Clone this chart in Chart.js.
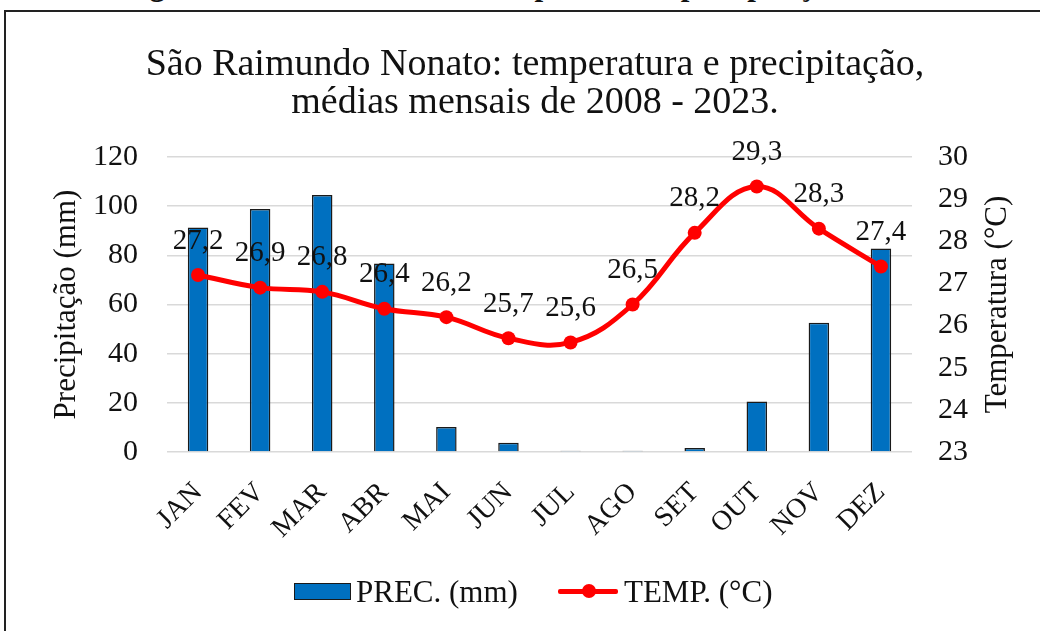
<!DOCTYPE html>
<html lang="pt">
<head>
<meta charset="utf-8">
<title>São Raimundo Nonato: temperatura e precipitação</title>
<script src="https://cdn.jsdelivr.net/npm/chart.js@4.4.1/dist/chart.umd.min.js"></script>
<style>
  html, body { margin: 0; padding: 0; background: #fff; }
  #quadro { position: relative; width: 1040px; height: 631px; overflow: hidden; font-family: "Liberation Serif", "Times New Roman", serif; color: #111; }
  #legenda-fig { position: absolute; left: 122px; top: -31px; font-weight: bold; font-size: 31px; line-height: 31px; white-space: nowrap; }
  #moldura { position: absolute; left: 4px; top: 10px; width: 1100px; height: 700px; border-left: 2px solid #222; border-top: 2px solid #222; }
  #titulo { position: absolute; left: 30px; top: 43px; width: 1010px; text-align: center; font-size: 38px; line-height: 38px; }
  canvas { position: absolute; left: 0; top: 0; }
  .leg { position: absolute; font-size: 31px; line-height: 31px; white-space: nowrap; }
  .caixa { position: absolute; left: 294px; top: 583px; width: 55px; height: 15px; background: #0070c0; border: 1.5px solid #1a1a1a; }
  .linha { position: absolute; left: 558px; top: 589px; width: 60px; height: 5px; background: #ff0000; border-radius: 2px; }
  .ponto { position: absolute; left: 582px; top: 584px; width: 14px; height: 14px; background: #ff0000; border-radius: 50%; }
</style>
</head>
<body>
<div id="quadro">
  <div id="legenda-fig">Figura 3: Média mensal de temperatura e precipitação</div>
  <div id="moldura"></div>
  <canvas id="grafico" width="1040" height="631"></canvas>
  <div id="titulo">São Raimundo Nonato: temperatura e precipitação,<br>médias mensais de 2008 - 2023.</div>
  <div class="caixa"></div>
  <div class="leg" style="left:356px; top:576px;">PREC. (mm)</div>
  <div class="linha"></div>
  <div class="ponto"></div>
  <div class="leg" style="left:624px; top:576px;">TEMP. (°C)</div>
</div>

<script>
// --- Dados ---
const meses = ['JAN', 'FEV', 'MAR', 'ABR', 'MAI', 'JUN', 'JUL', 'AGO', 'SET', 'OUT', 'NOV', 'DEZ'];
const precipitacao = [91.3, 98.8, 104.5, 76.7, 10.2, 3.8, 0.5, 0.5, 1.6, 20.5, 52.6, 82.8];
const temperatura = [27.2, 26.9, 26.8, 26.4, 26.2, 25.7, 25.6, 26.5, 28.2, 29.3, 28.3, 27.4];
const ticksPrec = [0, 20, 40, 60, 80, 100, 120];
const ticksTemp = [23, 24, 25, 26, 27, 28, 29, 30];

const FONTE = '"Liberation Serif", "Times New Roman", serif';
const COR_TEXTO = '#111';

/**
 * Escreve o valor de cada ponto de temperatura acima do marcador
 * e o título do eixo direito (lido de baixo para cima).
 */
const rotulosTemp = {
  id: 'rotulosTemp',
  afterDatasetsDraw(chart) {
    const meta = chart.getDatasetMeta(1);
    const ctx = chart.ctx;
    ctx.save();
    ctx.font = '29px ' + FONTE;
    ctx.fillStyle = COR_TEXTO;
    ctx.textAlign = 'center';
    ctx.textBaseline = 'middle';
    meta.data.forEach((pt, i) => {
      ctx.fillText(temperatura[i].toFixed(1).replace('.', ','), pt.x, pt.y - 34);
    });

    // titulo do eixo da temperatura
    const eixo = chart.scales.yTemp;
    ctx.font = '31px ' + FONTE;
    ctx.translate(eixo.right - 42, (eixo.top + eixo.bottom) / 2);
    ctx.rotate(-Math.PI / 2);
    ctx.fillText('Temperatura (°C)', 0, 0);
    ctx.restore();
  }
};

new Chart(document.getElementById('grafico'), {
  type: 'bar',
  data: {
    labels: meses,
    datasets: [
      {
        type: 'bar',
        label: 'PREC. (mm)',
        data: precipitacao,
        yAxisID: 'yPrec',
        backgroundColor: '#0070c0',
        borderColor: '#1a1a1a',
        borderWidth: 1.5,
        barPercentage: 0.33,
        categoryPercentage: 1,
        order: 2
      },
      {
        type: 'line',
        label: 'TEMP. (°C)',
        data: temperatura,
        yAxisID: 'yTemp',
        borderColor: '#ff0000',
        backgroundColor: '#ff0000',
        borderWidth: 5,
        pointRadius: 7,
        pointBorderWidth: 0,
        tension: 0.4,
        order: 1
      }
    ]
  },
  options: {
    responsive: false,
    animation: false,
    layout: { padding: { top: 157, left: 0, right: 0, bottom: 0 } },
    plugins: {
      legend: { display: false },
      tooltip: { enabled: false },
      title: { display: false }
    },
    scales: {
      x: {
        grid: { display: false },
        border: { display: false },
        ticks: {
          color: COR_TEXTO,
          font: { family: FONTE, size: 28 },
          minRotation: 45,
          maxRotation: 45,
          padding: 16,
          autoSkip: false
        },
        afterFit(scale) { scale.height = 179; }
      },
      yPrec: {
        position: 'left',
        min: 0,
        max: 120,
        afterBuildTicks(scale) { scale.ticks = ticksPrec.map(v => ({ value: v })); },
        grid: { color: '#d9d9d9', lineWidth: 1.5, drawTicks: false },
        border: { display: false },
        ticks: { color: COR_TEXTO, font: { family: FONTE, size: 30 }, padding: 29 },
        title: {
          display: true,
          text: 'Precipitação (mm)',
          color: COR_TEXTO,
          font: { family: FONTE, size: 31, lineHeight: 1.2 },
          padding: { top: 48, bottom: 0 }
        },
        afterFit(scale) { scale.width = 167; }
      },
      yTemp: {
        position: 'right',
        min: 23,
        max: 30,
        afterBuildTicks(scale) { scale.ticks = ticksTemp.map(v => ({ value: v })); },
        grid: { display: false, drawTicks: false },
        border: { display: false },
        ticks: { color: COR_TEXTO, font: { family: FONTE, size: 30 }, padding: 26 },
        afterFit(scale) { scale.width = 128; }
      }
    }
  },
  plugins: [rotulosTemp]
});
</script>
</body>
</html>
